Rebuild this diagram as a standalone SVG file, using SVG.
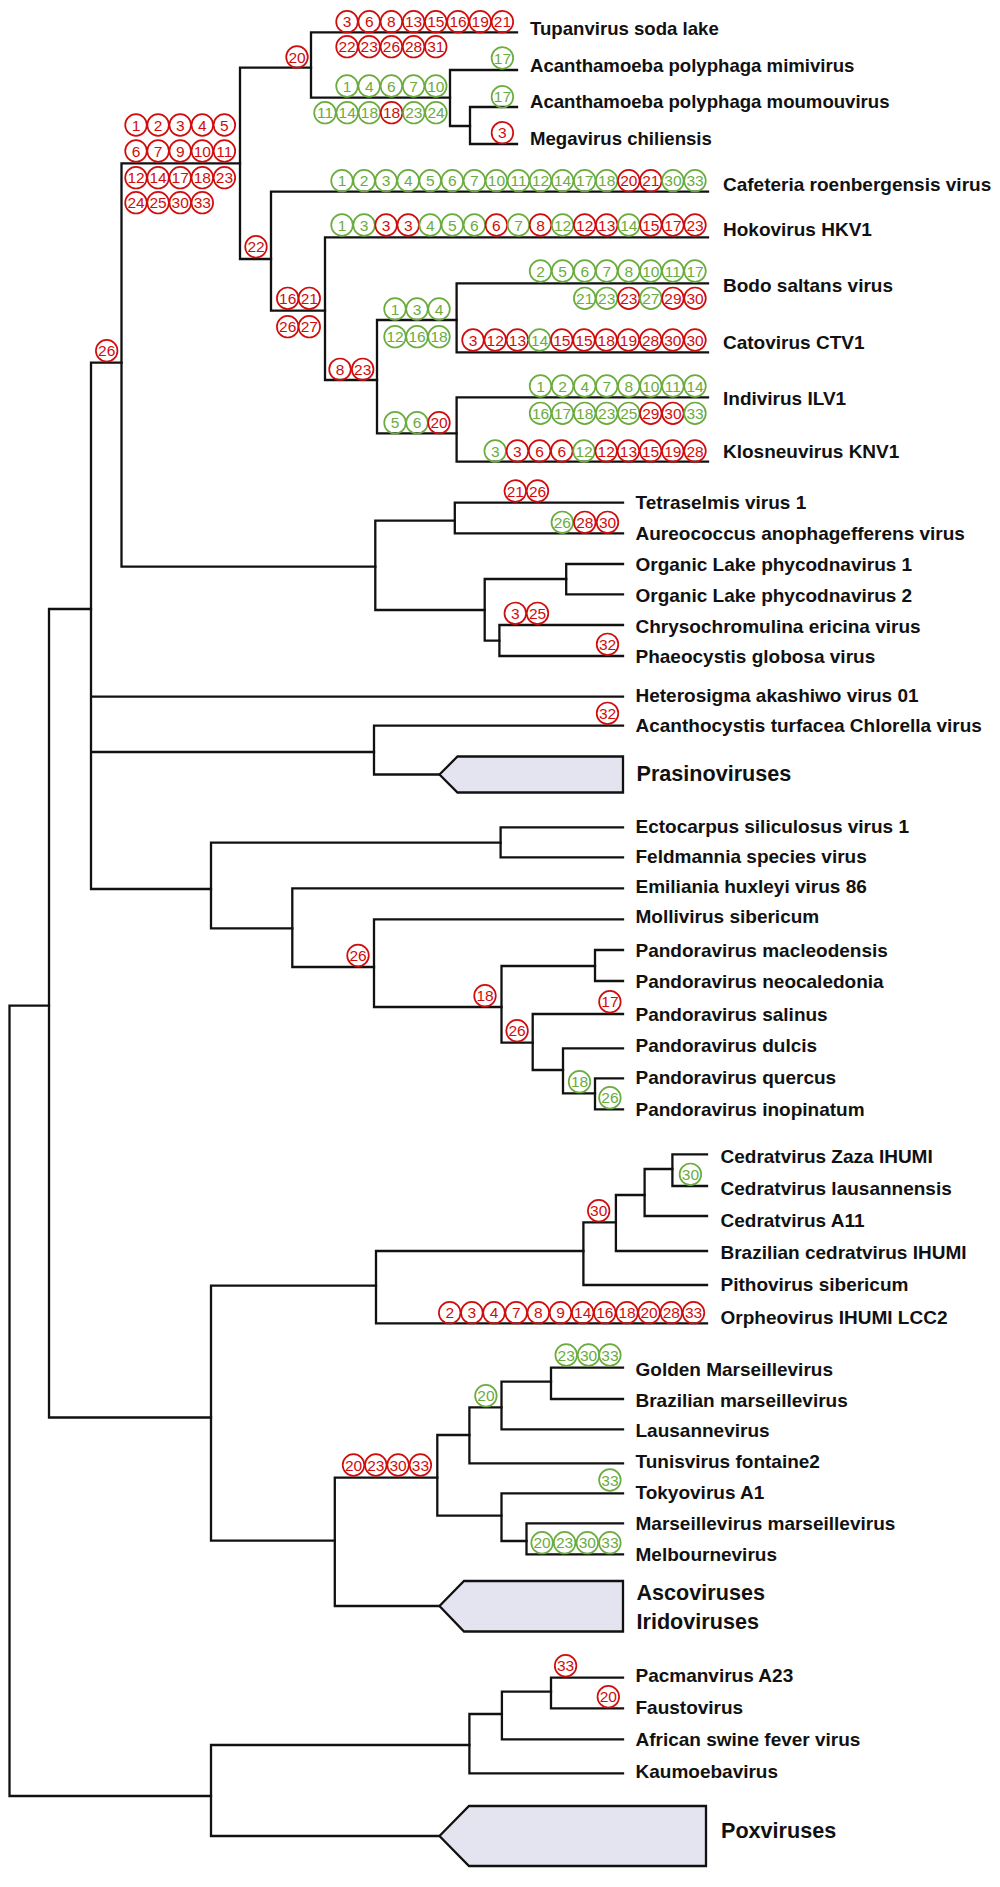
<svg xmlns="http://www.w3.org/2000/svg" width="1000" height="1887" viewBox="0 0 1000 1887">
<style>
.br{fill:none;stroke:#111;stroke-width:2.3;stroke-linecap:square;stroke-linejoin:miter}
.box{fill:#e4e4f0;stroke:#111;stroke-width:2.3}
.lab{font-family:"Liberation Sans",Arial,sans-serif;font-weight:bold;font-size:19px;fill:#111}
.lab.t{font-size:18.6px}
.grp{font-family:"Liberation Sans",Arial,sans-serif;font-weight:bold;font-size:21.6px;fill:#111}
.r circle,.g circle{fill:none;stroke-width:1.7}
.r circle{stroke:#d00c0c}
.g circle{stroke:#6aac3e}
.r text,.g text{font-family:"Liberation Sans",Arial,sans-serif;font-size:15.5px;text-anchor:middle}
.r text{fill:#d00c0c}
.g text{fill:#6aac3e}
</style>
<rect width="1000" height="1887" fill="#fff"/>
<g id="connectors">
<path class="br" d="M49,1005.6 H9.5 V1796 H211"/>
<path class="br" d="M91,609 H49 V1417.5 H211"/>
<path class="br" d="M121.5,362.7 H91 V889 H211 M91,696.7 H623 M91,752 H374"/>
<path class="br" d="M240,163.3 H121.5 V566.7 H375.3"/>
<path class="br" d="M311,67.7 H240 V259 H271"/>
<path class="br" d="M517,32.3 H311 V97.7 H450"/>
<path class="br" d="M517,70 H450 V126 H470"/>
<path class="br" d="M517,107 H470 V144 H517"/>
<path class="br" d="M708,191.7 H271 V310.7 H325"/>
<path class="br" d="M708,237.3 H325 V380 H377"/>
<path class="br" d="M456.6,320 H377 V433.3 H456.6"/>
<path class="br" d="M708,283.3 H456.6 V352.3 H708"/>
<path class="br" d="M708,397.3 H456.6 V461.7 H708"/>
<path class="br" d="M454.8,520.7 H375.3 V610 H484.7"/>
<path class="br" d="M623,502.7 H454.8 V533.3 H623"/>
<path class="br" d="M566.2,579 H484.7 V640.7 H499.4"/>
<path class="br" d="M623,564 H566.2 V594.3 H623"/>
<path class="br" d="M623,625 H499.4 V656 H623"/>
<path class="br" d="M623,725.7 H374 V774.5 H439.5"/>
<path class="br" d="M500.6,842.7 H211 V928.3 H292.3"/>
<path class="br" d="M623,827.3 H500.6 V857.3 H623"/>
<path class="br" d="M623,888.3 H292.3 V967 H374"/>
<path class="br" d="M623,919.3 H374 V1007 H501.5"/>
<path class="br" d="M595,966 H501.5 V1042.7 H532.7"/>
<path class="br" d="M623,950 H595 V981 H623"/>
<path class="br" d="M623,1014 H532.7 V1070 H563"/>
<path class="br" d="M623,1048.3 H563 V1093.3 H595"/>
<path class="br" d="M623,1078.3 H595 V1109.3 H623"/>
<path class="br" d="M376,1285.7 H211 V1540.6 H334.8"/>
<path class="br" d="M583.4,1251 H376 V1323.3 H707"/>
<path class="br" d="M615.9,1222.3 H583.4 V1285 H707"/>
<path class="br" d="M644.6,1195 H615.9 V1251 H707"/>
<path class="br" d="M672.4,1169 H644.6 V1216 H707"/>
<path class="br" d="M707,1154.3 H672.4 V1186 H707"/>
<path class="br" d="M437.3,1477.7 H334.8 V1606 H439.5"/>
<path class="br" d="M469.4,1435 H437.3 V1515.7 H501.5"/>
<path class="br" d="M501.5,1407.3 H469.4 V1463.3 H623"/>
<path class="br" d="M551,1381.7 H501.5 V1429.3 H623"/>
<path class="br" d="M623,1367.7 H551 V1399 H623"/>
<path class="br" d="M623,1493.3 H501.5 V1541 H526.5"/>
<path class="br" d="M623,1523.3 H526.5 V1554.3 H623"/>
<path class="br" d="M469.4,1745 H211 V1836 H439.5"/>
<path class="br" d="M501.9,1714 H469.4 V1773.3 H623"/>
<path class="br" d="M551,1691.7 H501.9 V1739.3 H623"/>
<path class="br" d="M623,1677.7 H551 V1708.3 H623"/>
</g>
<g id="collapsed">
<g id="prasinoviruses"><polygon class="box" points="439.5,774.5 457.5,756.5 623,756.5 623,792.5 457.5,792.5"/><text class="grp" x="636.5" y="781">Prasinoviruses</text></g>
<g id="asco-irido"><polygon class="box" points="439.5,1606 464,1581 623,1581 623,1631.5 464,1631.5"/><text class="grp" x="636.5" y="1599.5">Ascoviruses</text><text class="grp" x="636.5" y="1629">Iridoviruses</text></g>
<g id="poxviruses"><polygon class="box" points="439.5,1836 469,1806 706,1806 706,1866 469,1866"/><text class="grp" x="721" y="1838">Poxviruses</text></g>
</g>
<g id="leaves">
<text id="l-tupan" class="lab t" x="530" y="35">Tupanvirus soda lake</text>
<text id="l-mimi" class="lab t" x="530" y="71.7">Acanthamoeba polyphaga mimivirus</text>
<text id="l-moumou" class="lab t" x="530" y="108.3">Acanthamoeba polyphaga moumouvirus</text>
<text id="l-mega" class="lab t" x="530" y="145">Megavirus chiliensis</text>
<text id="l-cafeteria" class="lab" x="723" y="190.5">Cafeteria roenbergensis virus</text>
<text id="l-hoko" class="lab" x="723" y="235.5">Hokovirus HKV1</text>
<text id="l-bodo" class="lab" x="723" y="291.7">Bodo saltans virus</text>
<text id="l-cato" class="lab" x="723" y="349.3">Catovirus CTV1</text>
<text id="l-indi" class="lab" x="723" y="405">Indivirus ILV1</text>
<text id="l-klos" class="lab" x="723" y="458.3">Klosneuvirus KNV1</text>
<text id="l-tetra" class="lab" x="635.5" y="509.3">Tetraselmis virus 1</text>
<text id="l-aureo" class="lab" x="635.5" y="539.5">Aureococcus anophagefferens virus</text>
<text id="l-ol1" class="lab" x="635.5" y="571">Organic Lake phycodnavirus 1</text>
<text id="l-ol2" class="lab" x="635.5" y="601.5">Organic Lake phycodnavirus 2</text>
<text id="l-chryso" class="lab" x="635.5" y="632.5">Chrysochromulina ericina virus</text>
<text id="l-phaeo" class="lab" x="635.5" y="662.5">Phaeocystis globosa virus</text>
<text id="l-hetero" class="lab" x="635.5" y="701.7">Heterosigma akashiwo virus 01</text>
<text id="l-atcv" class="lab" x="635.5" y="732.3">Acanthocystis turfacea Chlorella virus</text>
<text id="l-ecto" class="lab" x="635.5" y="832.7">Ectocarpus siliculosus virus 1</text>
<text id="l-feld" class="lab" x="635.5" y="863.3">Feldmannia species virus</text>
<text id="l-emi" class="lab" x="635.5" y="893.3">Emiliania huxleyi virus 86</text>
<text id="l-molli" class="lab" x="635.5" y="923.3">Mollivirus sibericum</text>
<text id="l-pmac" class="lab" x="635.5" y="956.7">Pandoravirus macleodensis</text>
<text id="l-pneo" class="lab" x="635.5" y="988.3">Pandoravirus neocaledonia</text>
<text id="l-psal" class="lab" x="635.5" y="1020.7">Pandoravirus salinus</text>
<text id="l-pdul" class="lab" x="635.5" y="1052.3">Pandoravirus dulcis</text>
<text id="l-pque" class="lab" x="635.5" y="1084">Pandoravirus quercus</text>
<text id="l-pino" class="lab" x="635.5" y="1116">Pandoravirus inopinatum</text>
<text id="l-czaza" class="lab" x="720.5" y="1163.3">Cedratvirus Zaza IHUMI</text>
<text id="l-claus" class="lab" x="720.5" y="1195">Cedratvirus lausannensis</text>
<text id="l-ca11" class="lab" x="720.5" y="1227.3">Cedratvirus A11</text>
<text id="l-bcedr" class="lab" x="720.5" y="1259">Brazilian cedratvirus IHUMI</text>
<text id="l-pitho" class="lab" x="720.5" y="1290.7">Pithovirus sibericum</text>
<text id="l-orpheo" class="lab" x="720.5" y="1324">Orpheovirus IHUMI LCC2</text>
<text id="l-golden" class="lab" x="635.5" y="1375.7">Golden Marseillevirus</text>
<text id="l-bmars" class="lab" x="635.5" y="1406.7">Brazilian marseillevirus</text>
<text id="l-lausanne" class="lab" x="635.5" y="1437.3">Lausannevirus</text>
<text id="l-tunis" class="lab" x="635.5" y="1468.3">Tunisvirus fontaine2</text>
<text id="l-tokyo" class="lab" x="635.5" y="1499">Tokyovirus A1</text>
<text id="l-mmars" class="lab" x="635.5" y="1530">Marseillevirus marseillevirus</text>
<text id="l-melb" class="lab" x="635.5" y="1561">Melbournevirus</text>
<text id="l-pacman" class="lab" x="635.5" y="1682.3">Pacmanvirus A23</text>
<text id="l-fausto" class="lab" x="635.5" y="1714">Faustovirus</text>
<text id="l-asfv" class="lab" x="635.5" y="1746">African swine fever virus</text>
<text id="l-kaumo" class="lab" x="635.5" y="1777.7">Kaumoebavirus</text>
</g>
<g id="characters">
<g id="m-tupan">
<g class="r"><circle cx="347" cy="21.7" r="10.8"/><text x="347" y="27.3">3</text></g>
<g class="r"><circle cx="369.2" cy="21.7" r="10.8"/><text x="369.2" y="27.3">6</text></g>
<g class="r"><circle cx="391.4" cy="21.7" r="10.8"/><text x="391.4" y="27.3">8</text></g>
<g class="r"><circle cx="413.6" cy="21.7" r="10.8"/><text x="413.6" y="27.3">13</text></g>
<g class="r"><circle cx="435.8" cy="21.7" r="10.8"/><text x="435.8" y="27.3">15</text></g>
<g class="r"><circle cx="458" cy="21.7" r="10.8"/><text x="458" y="27.3">16</text></g>
<g class="r"><circle cx="480.2" cy="21.7" r="10.8"/><text x="480.2" y="27.3">19</text></g>
<g class="r"><circle cx="502.4" cy="21.7" r="10.8"/><text x="502.4" y="27.3">21</text></g>
<g class="r"><circle cx="347" cy="46.7" r="10.8"/><text x="347" y="52.3">22</text></g>
<g class="r"><circle cx="369.2" cy="46.7" r="10.8"/><text x="369.2" y="52.3">23</text></g>
<g class="r"><circle cx="391.4" cy="46.7" r="10.8"/><text x="391.4" y="52.3">26</text></g>
<g class="r"><circle cx="413.6" cy="46.7" r="10.8"/><text x="413.6" y="52.3">28</text></g>
<g class="r"><circle cx="435.8" cy="46.7" r="10.8"/><text x="435.8" y="52.3">31</text></g>
</g>
<g id="m-mimiclade">
<g class="r"><circle cx="297" cy="57" r="10.8"/><text x="297" y="62.6">20</text></g>
<g class="g"><circle cx="347" cy="86" r="10.8"/><text x="347" y="91.6">1</text></g>
<g class="g"><circle cx="369.2" cy="86" r="10.8"/><text x="369.2" y="91.6">4</text></g>
<g class="g"><circle cx="391.4" cy="86" r="10.8"/><text x="391.4" y="91.6">6</text></g>
<g class="g"><circle cx="413.6" cy="86" r="10.8"/><text x="413.6" y="91.6">7</text></g>
<g class="g"><circle cx="435.8" cy="86" r="10.8"/><text x="435.8" y="91.6">10</text></g>
<g class="g"><circle cx="325" cy="112.7" r="10.8"/><text x="325" y="118.3">11</text></g>
<g class="g"><circle cx="347.2" cy="112.7" r="10.8"/><text x="347.2" y="118.3">14</text></g>
<g class="g"><circle cx="369.4" cy="112.7" r="10.8"/><text x="369.4" y="118.3">18</text></g>
<g class="r"><circle cx="391.6" cy="112.7" r="10.8"/><text x="391.6" y="118.3">18</text></g>
<g class="g"><circle cx="413.8" cy="112.7" r="10.8"/><text x="413.8" y="118.3">23</text></g>
<g class="g"><circle cx="436" cy="112.7" r="10.8"/><text x="436" y="118.3">24</text></g>
<g class="g"><circle cx="502.4" cy="58" r="10.8"/><text x="502.4" y="63.6">17</text></g>
<g class="g"><circle cx="502.4" cy="96.7" r="10.8"/><text x="502.4" y="102.3">17</text></g>
<g class="r"><circle cx="502.4" cy="132.7" r="10.8"/><text x="502.4" y="138.3">3</text></g>
</g>
<g id="m-nucleo">
<g class="r"><circle cx="136" cy="125" r="10.8"/><text x="136" y="130.6">1</text></g>
<g class="r"><circle cx="158.1" cy="125" r="10.8"/><text x="158.1" y="130.6">2</text></g>
<g class="r"><circle cx="180.2" cy="125" r="10.8"/><text x="180.2" y="130.6">3</text></g>
<g class="r"><circle cx="202.3" cy="125" r="10.8"/><text x="202.3" y="130.6">4</text></g>
<g class="r"><circle cx="224.4" cy="125" r="10.8"/><text x="224.4" y="130.6">5</text></g>
<g class="r"><circle cx="136" cy="151" r="10.8"/><text x="136" y="156.6">6</text></g>
<g class="r"><circle cx="158.1" cy="151" r="10.8"/><text x="158.1" y="156.6">7</text></g>
<g class="r"><circle cx="180.2" cy="151" r="10.8"/><text x="180.2" y="156.6">9</text></g>
<g class="r"><circle cx="202.3" cy="151" r="10.8"/><text x="202.3" y="156.6">10</text></g>
<g class="r"><circle cx="224.4" cy="151" r="10.8"/><text x="224.4" y="156.6">11</text></g>
<g class="r"><circle cx="136" cy="177.7" r="10.8"/><text x="136" y="183.3">12</text></g>
<g class="r"><circle cx="158.1" cy="177.7" r="10.8"/><text x="158.1" y="183.3">14</text></g>
<g class="r"><circle cx="180.2" cy="177.7" r="10.8"/><text x="180.2" y="183.3">17</text></g>
<g class="r"><circle cx="202.3" cy="177.7" r="10.8"/><text x="202.3" y="183.3">18</text></g>
<g class="r"><circle cx="224.4" cy="177.7" r="10.8"/><text x="224.4" y="183.3">23</text></g>
<g class="r"><circle cx="136" cy="202.7" r="10.8"/><text x="136" y="208.3">24</text></g>
<g class="r"><circle cx="158.1" cy="202.7" r="10.8"/><text x="158.1" y="208.3">25</text></g>
<g class="r"><circle cx="180.2" cy="202.7" r="10.8"/><text x="180.2" y="208.3">30</text></g>
<g class="r"><circle cx="202.3" cy="202.7" r="10.8"/><text x="202.3" y="208.3">33</text></g>
<g class="r"><circle cx="106.7" cy="350.7" r="10.8"/><text x="106.7" y="356.3">26</text></g>
<g class="r"><circle cx="256" cy="246.7" r="10.8"/><text x="256" y="252.3">22</text></g>
<g class="r"><circle cx="287.7" cy="298.3" r="10.8"/><text x="287.7" y="303.9">16</text></g>
<g class="r"><circle cx="309.3" cy="298.3" r="10.8"/><text x="309.3" y="303.9">21</text></g>
<g class="r"><circle cx="287.7" cy="326.7" r="10.8"/><text x="287.7" y="332.3">26</text></g>
<g class="r"><circle cx="309.3" cy="326.7" r="10.8"/><text x="309.3" y="332.3">27</text></g>
<g class="r"><circle cx="340" cy="369.3" r="10.8"/><text x="340" y="374.9">8</text></g>
<g class="r"><circle cx="362.7" cy="369.3" r="10.8"/><text x="362.7" y="374.9">23</text></g>
</g>
<g id="m-cafeteria">
<g class="g"><circle cx="342" cy="180.7" r="10.8"/><text x="342" y="186.3">1</text></g>
<g class="g"><circle cx="364.1" cy="180.7" r="10.8"/><text x="364.1" y="186.3">2</text></g>
<g class="g"><circle cx="386.1" cy="180.7" r="10.8"/><text x="386.1" y="186.3">3</text></g>
<g class="g"><circle cx="408.2" cy="180.7" r="10.8"/><text x="408.2" y="186.3">4</text></g>
<g class="g"><circle cx="430.2" cy="180.7" r="10.8"/><text x="430.2" y="186.3">5</text></g>
<g class="g"><circle cx="452.3" cy="180.7" r="10.8"/><text x="452.3" y="186.3">6</text></g>
<g class="g"><circle cx="474.4" cy="180.7" r="10.8"/><text x="474.4" y="186.3">7</text></g>
<g class="g"><circle cx="496.4" cy="180.7" r="10.8"/><text x="496.4" y="186.3">10</text></g>
<g class="g"><circle cx="518.5" cy="180.7" r="10.8"/><text x="518.5" y="186.3">11</text></g>
<g class="g"><circle cx="540.5" cy="180.7" r="10.8"/><text x="540.5" y="186.3">12</text></g>
<g class="g"><circle cx="562.6" cy="180.7" r="10.8"/><text x="562.6" y="186.3">14</text></g>
<g class="g"><circle cx="584.7" cy="180.7" r="10.8"/><text x="584.7" y="186.3">17</text></g>
<g class="g"><circle cx="606.7" cy="180.7" r="10.8"/><text x="606.7" y="186.3">18</text></g>
<g class="r"><circle cx="628.8" cy="180.7" r="10.8"/><text x="628.8" y="186.3">20</text></g>
<g class="r"><circle cx="650.8" cy="180.7" r="10.8"/><text x="650.8" y="186.3">21</text></g>
<g class="g"><circle cx="672.9" cy="180.7" r="10.8"/><text x="672.9" y="186.3">30</text></g>
<g class="g"><circle cx="695" cy="180.7" r="10.8"/><text x="695" y="186.3">33</text></g>
</g>
<g id="m-hoko">
<g class="g"><circle cx="342" cy="225" r="10.8"/><text x="342" y="230.6">1</text></g>
<g class="g"><circle cx="364.1" cy="225" r="10.8"/><text x="364.1" y="230.6">3</text></g>
<g class="r"><circle cx="386.1" cy="225" r="10.8"/><text x="386.1" y="230.6">3</text></g>
<g class="r"><circle cx="408.2" cy="225" r="10.8"/><text x="408.2" y="230.6">3</text></g>
<g class="g"><circle cx="430.2" cy="225" r="10.8"/><text x="430.2" y="230.6">4</text></g>
<g class="g"><circle cx="452.3" cy="225" r="10.8"/><text x="452.3" y="230.6">5</text></g>
<g class="g"><circle cx="474.4" cy="225" r="10.8"/><text x="474.4" y="230.6">6</text></g>
<g class="r"><circle cx="496.4" cy="225" r="10.8"/><text x="496.4" y="230.6">6</text></g>
<g class="g"><circle cx="518.5" cy="225" r="10.8"/><text x="518.5" y="230.6">7</text></g>
<g class="r"><circle cx="540.5" cy="225" r="10.8"/><text x="540.5" y="230.6">8</text></g>
<g class="g"><circle cx="562.6" cy="225" r="10.8"/><text x="562.6" y="230.6">12</text></g>
<g class="r"><circle cx="584.7" cy="225" r="10.8"/><text x="584.7" y="230.6">12</text></g>
<g class="r"><circle cx="606.7" cy="225" r="10.8"/><text x="606.7" y="230.6">13</text></g>
<g class="g"><circle cx="628.8" cy="225" r="10.8"/><text x="628.8" y="230.6">14</text></g>
<g class="r"><circle cx="650.8" cy="225" r="10.8"/><text x="650.8" y="230.6">15</text></g>
<g class="r"><circle cx="672.9" cy="225" r="10.8"/><text x="672.9" y="230.6">17</text></g>
<g class="r"><circle cx="695" cy="225" r="10.8"/><text x="695" y="230.6">23</text></g>
</g>
<g id="m-bodo">
<g class="g"><circle cx="540.5" cy="271" r="10.8"/><text x="540.5" y="276.6">2</text></g>
<g class="g"><circle cx="562.6" cy="271" r="10.8"/><text x="562.6" y="276.6">5</text></g>
<g class="g"><circle cx="584.7" cy="271" r="10.8"/><text x="584.7" y="276.6">6</text></g>
<g class="g"><circle cx="606.7" cy="271" r="10.8"/><text x="606.7" y="276.6">7</text></g>
<g class="g"><circle cx="628.8" cy="271" r="10.8"/><text x="628.8" y="276.6">8</text></g>
<g class="g"><circle cx="650.8" cy="271" r="10.8"/><text x="650.8" y="276.6">10</text></g>
<g class="g"><circle cx="672.9" cy="271" r="10.8"/><text x="672.9" y="276.6">11</text></g>
<g class="g"><circle cx="695" cy="271" r="10.8"/><text x="695" y="276.6">17</text></g>
<g class="g"><circle cx="584.7" cy="298.3" r="10.8"/><text x="584.7" y="303.9">21</text></g>
<g class="g"><circle cx="606.7" cy="298.3" r="10.8"/><text x="606.7" y="303.9">23</text></g>
<g class="r"><circle cx="628.8" cy="298.3" r="10.8"/><text x="628.8" y="303.9">23</text></g>
<g class="g"><circle cx="650.8" cy="298.3" r="10.8"/><text x="650.8" y="303.9">27</text></g>
<g class="r"><circle cx="672.9" cy="298.3" r="10.8"/><text x="672.9" y="303.9">29</text></g>
<g class="r"><circle cx="695" cy="298.3" r="10.8"/><text x="695" y="303.9">30</text></g>
</g>
<g id="m-bodocato">
<g class="g"><circle cx="395" cy="309" r="10.8"/><text x="395" y="314.6">1</text></g>
<g class="g"><circle cx="417" cy="309" r="10.8"/><text x="417" y="314.6">3</text></g>
<g class="g"><circle cx="439" cy="309" r="10.8"/><text x="439" y="314.6">4</text></g>
<g class="g"><circle cx="395" cy="336.7" r="10.8"/><text x="395" y="342.3">12</text></g>
<g class="g"><circle cx="417" cy="336.7" r="10.8"/><text x="417" y="342.3">16</text></g>
<g class="g"><circle cx="439" cy="336.7" r="10.8"/><text x="439" y="342.3">18</text></g>
</g>
<g id="m-cato">
<g class="r"><circle cx="473" cy="340" r="10.8"/><text x="473" y="345.6">3</text></g>
<g class="r"><circle cx="495.2" cy="340" r="10.8"/><text x="495.2" y="345.6">12</text></g>
<g class="r"><circle cx="517.4" cy="340" r="10.8"/><text x="517.4" y="345.6">13</text></g>
<g class="g"><circle cx="539.6" cy="340" r="10.8"/><text x="539.6" y="345.6">14</text></g>
<g class="r"><circle cx="561.8" cy="340" r="10.8"/><text x="561.8" y="345.6">15</text></g>
<g class="r"><circle cx="584" cy="340" r="10.8"/><text x="584" y="345.6">15</text></g>
<g class="r"><circle cx="606.2" cy="340" r="10.8"/><text x="606.2" y="345.6">18</text></g>
<g class="r"><circle cx="628.4" cy="340" r="10.8"/><text x="628.4" y="345.6">19</text></g>
<g class="r"><circle cx="650.6" cy="340" r="10.8"/><text x="650.6" y="345.6">28</text></g>
<g class="r"><circle cx="672.8" cy="340" r="10.8"/><text x="672.8" y="345.6">30</text></g>
<g class="r"><circle cx="695" cy="340" r="10.8"/><text x="695" y="345.6">30</text></g>
</g>
<g id="m-indi">
<g class="g"><circle cx="540.5" cy="386" r="10.8"/><text x="540.5" y="391.6">1</text></g>
<g class="g"><circle cx="562.6" cy="386" r="10.8"/><text x="562.6" y="391.6">2</text></g>
<g class="g"><circle cx="584.7" cy="386" r="10.8"/><text x="584.7" y="391.6">4</text></g>
<g class="g"><circle cx="606.7" cy="386" r="10.8"/><text x="606.7" y="391.6">7</text></g>
<g class="g"><circle cx="628.8" cy="386" r="10.8"/><text x="628.8" y="391.6">8</text></g>
<g class="g"><circle cx="650.8" cy="386" r="10.8"/><text x="650.8" y="391.6">10</text></g>
<g class="g"><circle cx="672.9" cy="386" r="10.8"/><text x="672.9" y="391.6">11</text></g>
<g class="g"><circle cx="695" cy="386" r="10.8"/><text x="695" y="391.6">14</text></g>
<g class="g"><circle cx="540.5" cy="413.3" r="10.8"/><text x="540.5" y="418.9">16</text></g>
<g class="g"><circle cx="562.6" cy="413.3" r="10.8"/><text x="562.6" y="418.9">17</text></g>
<g class="g"><circle cx="584.7" cy="413.3" r="10.8"/><text x="584.7" y="418.9">18</text></g>
<g class="g"><circle cx="606.7" cy="413.3" r="10.8"/><text x="606.7" y="418.9">23</text></g>
<g class="g"><circle cx="628.8" cy="413.3" r="10.8"/><text x="628.8" y="418.9">25</text></g>
<g class="r"><circle cx="650.8" cy="413.3" r="10.8"/><text x="650.8" y="418.9">29</text></g>
<g class="r"><circle cx="672.9" cy="413.3" r="10.8"/><text x="672.9" y="418.9">30</text></g>
<g class="g"><circle cx="695" cy="413.3" r="10.8"/><text x="695" y="418.9">33</text></g>
</g>
<g id="m-indiklos">
<g class="g"><circle cx="395" cy="422.7" r="10.8"/><text x="395" y="428.3">5</text></g>
<g class="g"><circle cx="417" cy="422.7" r="10.8"/><text x="417" y="428.3">6</text></g>
<g class="r"><circle cx="439" cy="422.7" r="10.8"/><text x="439" y="428.3">20</text></g>
</g>
<g id="m-klos">
<g class="g"><circle cx="495.2" cy="451" r="10.8"/><text x="495.2" y="456.6">3</text></g>
<g class="r"><circle cx="517.4" cy="451" r="10.8"/><text x="517.4" y="456.6">3</text></g>
<g class="r"><circle cx="539.6" cy="451" r="10.8"/><text x="539.6" y="456.6">6</text></g>
<g class="r"><circle cx="561.8" cy="451" r="10.8"/><text x="561.8" y="456.6">6</text></g>
<g class="g"><circle cx="584" cy="451" r="10.8"/><text x="584" y="456.6">12</text></g>
<g class="r"><circle cx="606.2" cy="451" r="10.8"/><text x="606.2" y="456.6">12</text></g>
<g class="r"><circle cx="628.4" cy="451" r="10.8"/><text x="628.4" y="456.6">13</text></g>
<g class="r"><circle cx="650.6" cy="451" r="10.8"/><text x="650.6" y="456.6">15</text></g>
<g class="r"><circle cx="672.8" cy="451" r="10.8"/><text x="672.8" y="456.6">19</text></g>
<g class="r"><circle cx="695" cy="451" r="10.8"/><text x="695" y="456.6">28</text></g>
</g>
<g id="m-phyco">
<g class="r"><circle cx="515.3" cy="491" r="10.8"/><text x="515.3" y="496.6">21</text></g>
<g class="r"><circle cx="537.5" cy="491" r="10.8"/><text x="537.5" y="496.6">26</text></g>
<g class="g"><circle cx="562.3" cy="522.3" r="10.8"/><text x="562.3" y="527.9">26</text></g>
<g class="r"><circle cx="584.8" cy="522.3" r="10.8"/><text x="584.8" y="527.9">28</text></g>
<g class="r"><circle cx="607.5" cy="522.3" r="10.8"/><text x="607.5" y="527.9">30</text></g>
<g class="r"><circle cx="515.3" cy="613.3" r="10.8"/><text x="515.3" y="618.9">3</text></g>
<g class="r"><circle cx="537.5" cy="613.3" r="10.8"/><text x="537.5" y="618.9">25</text></g>
<g class="r"><circle cx="607.5" cy="644.3" r="10.8"/><text x="607.5" y="649.9">32</text></g>
<g class="r"><circle cx="607.5" cy="713.3" r="10.8"/><text x="607.5" y="718.9">32</text></g>
</g>
<g id="m-pandora">
<g class="r"><circle cx="358" cy="955.5" r="10.8"/><text x="358" y="961.1">26</text></g>
<g class="r"><circle cx="485" cy="995.7" r="10.8"/><text x="485" y="1001.3">18</text></g>
<g class="r"><circle cx="517.1" cy="1030.7" r="10.8"/><text x="517.1" y="1036.3">26</text></g>
<g class="r"><circle cx="609.9" cy="1001.7" r="10.8"/><text x="609.9" y="1007.3">17</text></g>
<g class="g"><circle cx="579.5" cy="1081.7" r="10.8"/><text x="579.5" y="1087.3">18</text></g>
<g class="g"><circle cx="609.9" cy="1097.7" r="10.8"/><text x="609.9" y="1103.3">26</text></g>
</g>
<g id="m-pitho">
<g class="g"><circle cx="690.4" cy="1174.3" r="10.8"/><text x="690.4" y="1179.9">30</text></g>
<g class="r"><circle cx="598.7" cy="1210.7" r="10.8"/><text x="598.7" y="1216.3">30</text></g>
<g class="r"><circle cx="449.7" cy="1312.7" r="10.8"/><text x="449.7" y="1318.3">2</text></g>
<g class="r"><circle cx="471.9" cy="1312.7" r="10.8"/><text x="471.9" y="1318.3">3</text></g>
<g class="r"><circle cx="494" cy="1312.7" r="10.8"/><text x="494" y="1318.3">4</text></g>
<g class="r"><circle cx="516.2" cy="1312.7" r="10.8"/><text x="516.2" y="1318.3">7</text></g>
<g class="r"><circle cx="538.3" cy="1312.7" r="10.8"/><text x="538.3" y="1318.3">8</text></g>
<g class="r"><circle cx="560.5" cy="1312.7" r="10.8"/><text x="560.5" y="1318.3">9</text></g>
<g class="r"><circle cx="582.7" cy="1312.7" r="10.8"/><text x="582.7" y="1318.3">14</text></g>
<g class="r"><circle cx="604.8" cy="1312.7" r="10.8"/><text x="604.8" y="1318.3">16</text></g>
<g class="r"><circle cx="627" cy="1312.7" r="10.8"/><text x="627" y="1318.3">18</text></g>
<g class="r"><circle cx="649.1" cy="1312.7" r="10.8"/><text x="649.1" y="1318.3">20</text></g>
<g class="r"><circle cx="671.3" cy="1312.7" r="10.8"/><text x="671.3" y="1318.3">28</text></g>
<g class="r"><circle cx="693.5" cy="1312.7" r="10.8"/><text x="693.5" y="1318.3">33</text></g>
</g>
<g id="m-marseille">
<g class="g"><circle cx="566.2" cy="1355" r="10.8"/><text x="566.2" y="1360.6">23</text></g>
<g class="g"><circle cx="588.5" cy="1355" r="10.8"/><text x="588.5" y="1360.6">30</text></g>
<g class="g"><circle cx="609.9" cy="1355" r="10.8"/><text x="609.9" y="1360.6">33</text></g>
<g class="g"><circle cx="485.9" cy="1395.7" r="10.8"/><text x="485.9" y="1401.3">20</text></g>
<g class="r"><circle cx="353.5" cy="1465" r="10.8"/><text x="353.5" y="1470.6">20</text></g>
<g class="r"><circle cx="375.8" cy="1465" r="10.8"/><text x="375.8" y="1470.6">23</text></g>
<g class="r"><circle cx="398.1" cy="1465" r="10.8"/><text x="398.1" y="1470.6">30</text></g>
<g class="r"><circle cx="420.4" cy="1465" r="10.8"/><text x="420.4" y="1470.6">33</text></g>
<g class="g"><circle cx="609.9" cy="1480" r="10.8"/><text x="609.9" y="1485.6">33</text></g>
<g class="g"><circle cx="542.1" cy="1542.7" r="10.8"/><text x="542.1" y="1548.3">20</text></g>
<g class="g"><circle cx="564.6" cy="1542.7" r="10.8"/><text x="564.6" y="1548.3">23</text></g>
<g class="g"><circle cx="587.3" cy="1542.7" r="10.8"/><text x="587.3" y="1548.3">30</text></g>
<g class="g"><circle cx="609.9" cy="1542.7" r="10.8"/><text x="609.9" y="1548.3">33</text></g>
</g>
<g id="m-asfar">
<g class="r"><circle cx="565.6" cy="1665.7" r="10.8"/><text x="565.6" y="1671.3">33</text></g>
<g class="r"><circle cx="608.3" cy="1696.7" r="10.8"/><text x="608.3" y="1702.3">20</text></g>
</g>
</g>
</svg>
